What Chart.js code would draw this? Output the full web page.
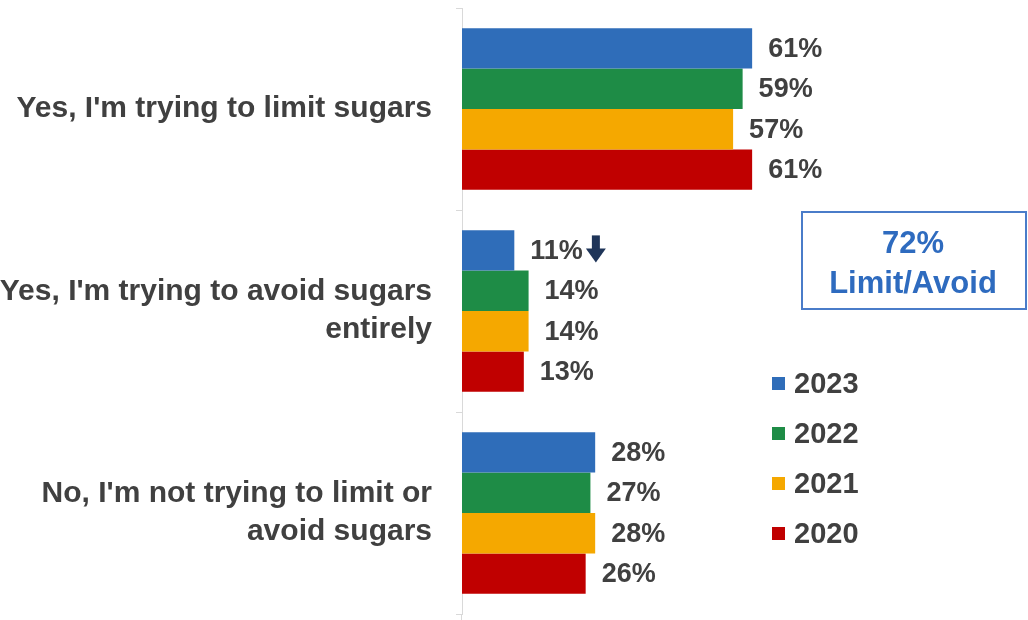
<!DOCTYPE html>
<html>
<head>
<meta charset="utf-8">
<script src="https://cdn.jsdelivr.net/npm/chart.js@4.4.1/dist/chart.umd.min.js"></script>
<style>
  html, body { margin: 0; padding: 0; background: #fff; }
  #wrap { position: relative; width: 1028px; height: 620px; }
</style>
</head>
<body>
<div id="wrap"><canvas id="sugarChart"></canvas></div>
<script>
// categories and series
const categories = [
  ["Yes, I'm trying to limit sugars"],
  ["Yes, I'm trying to avoid sugars", "entirely"],
  ["No, I'm not trying to limit or", "avoid sugars"],
];
const years = ["2023", "2022", "2021", "2020"];
const values2023 = [61, 11, 28];
const values2022 = [59, 14, 27];
const values2021 = [57, 14, 28];
const values2020 = [61, 13, 26];
const summaryLines = ["72%", "Limit/Avoid"];

const colors = ["#2F6DB9", "#1E8C46", "#F5A800", "#C00000"];
const textColor = "#404040";
const fontFamily = "'Liberation Sans', Arial, sans-serif";

// labels at the end of each bar, plus the down arrow on 2023 "avoid"
const barLabels = {
  id: "barLabels",
  afterDatasetsDraw(chart) {
    const ctx = chart.ctx;
    ctx.save();
    ctx.font = "bold 27px " + fontFamily;
    ctx.fillStyle = textColor;
    ctx.textBaseline = "middle";
    ctx.textAlign = "left";
    chart.data.datasets.forEach((ds, i) => {
      const meta = chart.getDatasetMeta(i);
      meta.data.forEach((bar, j) => {
        const txt = ds.data[j] + "%";
        const x = bar.x + 16;
        ctx.fillText(txt, x, bar.y + 1);
        if (i === 0 && j === 1) {
          // down arrow after the label
          const ax = x + ctx.measureText(txt).width + 13;
          const top = bar.y - 15;
          ctx.save();
          ctx.fillStyle = "#1F3559";
          ctx.fillRect(ax - 4, top, 8, 14);
          ctx.beginPath();
          ctx.moveTo(ax - 10, top + 13);
          ctx.lineTo(ax + 10, top + 13);
          ctx.lineTo(ax, top + 27);
          ctx.closePath();
          ctx.fill();
          ctx.restore();
        }
      });
    });
    ctx.restore();
  },
};

// summary box, legend, and the axis line running on to the bottom edge
const sideItems = {
  id: "sideItems",
  afterDraw(chart) {
    const ctx = chart.ctx;
    const area = chart.chartArea;
    ctx.save();
    ctx.strokeStyle = "#d9d9d9";
    ctx.lineWidth = 1;
    ctx.beginPath();
    ctx.moveTo(area.left - 0.5, area.bottom);
    ctx.lineTo(area.left - 0.5, chart.height);
    ctx.stroke();
    // box
    ctx.strokeStyle = "#4A7CC9";
    ctx.lineWidth = 2;
    ctx.strokeRect(802, 212, 224, 97);
    ctx.fillStyle = "#2E6BBF";
    ctx.font = "bold 31px " + fontFamily;
    ctx.textAlign = "center";
    ctx.textBaseline = "middle";
    ctx.fillText(summaryLines[0], 913, 244);
    ctx.fillText(summaryLines[1], 913, 284);
    // legend
    ctx.textAlign = "left";
    ctx.font = "bold 29px " + fontFamily;
    chart.data.datasets.forEach((ds, i) => {
      const y = 384 + i * 50;
      ctx.fillStyle = ds.backgroundColor;
      ctx.fillRect(772, y - 7, 13, 13);
      ctx.fillStyle = textColor;
      ctx.fillText(ds.label, 794, y + 1);
    });
    ctx.restore();
  },
};

new Chart(document.getElementById("sugarChart"), {
  type: "bar",
  data: {
    labels: categories,
    datasets: [
      { label: years[0], data: values2023, backgroundColor: colors[0] },
      { label: years[1], data: values2022, backgroundColor: colors[1] },
      { label: years[2], data: values2021, backgroundColor: colors[2] },
      { label: years[3], data: values2020, backgroundColor: colors[3] },
    ],
  },
  options: {
    indexAxis: "y",
    responsive: true,
    maintainAspectRatio: false,
    animation: false,
    layout: { padding: { top: 8, bottom: 6, left: 0, right: 0 } },
    datasets: {
      bar: { categoryPercentage: 0.8, barPercentage: 1.0, borderWidth: 0 },
    },
    scales: {
      x: { display: false, min: 0, max: 119 },
      y: {
        afterFit(scale) {
          scale.width = 462;
          scale.paddingTop = 0;
          scale.paddingBottom = 0;
        },
        grid: {
          drawOnChartArea: false,
          drawTicks: true,
          tickLength: 6,
          color: "#d9d9d9",
        },
        border: { display: true, color: "#d9d9d9", width: 1 },
        ticks: {
          color: textColor,
          padding: 24,
          font: { family: fontFamily, size: 30, weight: "bold", lineHeight: 1.27 },
        },
      },
    },
    plugins: {
      legend: { display: false },
      tooltip: { enabled: false },
    },
  },
  plugins: [barLabels, sideItems],
});
</script>
</body>
</html>
